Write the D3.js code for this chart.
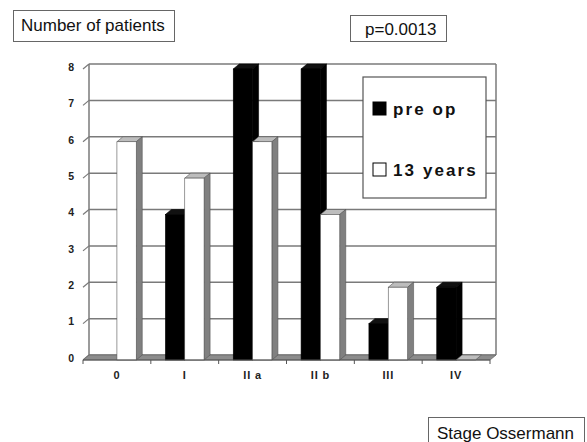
<!DOCTYPE html>
<html><head><meta charset="utf-8">
<script src="https://cdn.jsdelivr.net/npm/d3@7"></script>
<style>body{margin:0;background:#fff}svg{display:block}</style>
</head><body>
<script>
const categories = ["0", "I", "II a", "II b", "III", "IV"];
const preOp = [0, 4, 8, 8, 1, 2];
const years13 = [6, 5, 6, 4, 2, 0];
const seriesNames = ["pre op", "13 years"];
const yTicks = [0, 1, 2, 3, 4, 5, 6, 7, 8];

const W = 587, H = 442;
const svg = d3.select("body").append("svg").attr("width", W).attr("height", H);
const font = "'Liberation Sans', Arial, sans-serif";

const dx = 6, dy = 5;
const x0 = 83, x1 = 490, yFront0 = 360;
const x = d3.scaleBand().domain(categories).range([x0, x1]);
const yF = d3.scaleLinear().domain([0, 8]).range([yFront0, yFront0 - 291]);
const yB = v => yF(v) - dy;
const gridCol = "#7a7a7a";

svg.append("g").selectAll("line").data(yTicks).join("line")
  .attr("x1", x0 + dx).attr("x2", x1 + dx)
  .attr("y1", d => yB(d)).attr("y2", d => yB(d))
  .attr("stroke", gridCol).attr("stroke-width", 1.5);
svg.append("line").attr("x1", x0 + dx).attr("x2", x0 + dx).attr("y1", yB(8)).attr("y2", yB(0))
  .attr("stroke", gridCol).attr("stroke-width", 1.5);
svg.append("line").attr("x1", x1 + dx).attr("x2", x1 + dx).attr("y1", yB(8)).attr("y2", yB(0))
  .attr("stroke", gridCol).attr("stroke-width", 1.5);
svg.append("g").selectAll("line").data(yTicks).join("line")
  .attr("x1", x0).attr("y1", d => yF(d))
  .attr("x2", x0 + dx).attr("y2", d => yB(d))
  .attr("stroke", gridCol).attr("stroke-width", 1.2);
svg.append("path")
  .attr("d", `M${x0},${yF(0)}L${x1},${yF(0)}L${x1 + dx},${yB(0)}L${x0 + dx},${yB(0)}Z`)
  .attr("fill", "#8c8c8c").attr("stroke", "#6a6a6a").attr("stroke-width", 0.8);

svg.append("g").selectAll("text").data(yTicks).join("text")
  .attr("x", 74).attr("y", d => yF(d) - 1)
  .attr("text-anchor", "end").attr("dominant-baseline", "middle")
  .attr("font-family", font).attr("font-weight", "bold").attr("font-size", 10.5)
  .attr("fill", "#222").text(d => d);

const bw = x.bandwidth() * 0.285;
const series = [
  { values: preOp, front: "#000", side: "#000", top: "#111", offset: -1 },
  { values: years13, front: "#fff", side: "#808080", top: "#bdbdbd", offset: 0 }
];
const barG = svg.append("g");
categories.forEach((c, i) => {
  const cx = x(c) + x.bandwidth() / 2;
  series.forEach((s, si) => {
    const v = s.values[i];
    if (v === 0 && si === 0) return;
    const xl = cx + s.offset * bw, xr = xl + bw;
    const yt = yF(v), yb = yF(0);
    const g = barG.append("g");
    g.append("path")
      .attr("d", `M${xl},${yt}L${xr},${yt}L${xr + dx},${yt - dy}L${xl + dx},${yt - dy}Z`)
      .attr("fill", s.top).attr("stroke", si === 0 ? "#000" : "#555").attr("stroke-width", 0.6);
    if (v > 0) {
      g.append("path")
        .attr("d", `M${xr},${yt}L${xr + dx},${yt - dy}L${xr + dx},${yb - dy}L${xr},${yb}Z`)
        .attr("fill", s.side).attr("stroke", si === 0 ? "#000" : "#555").attr("stroke-width", 0.6);
      g.append("rect").attr("x", xl).attr("y", yt).attr("width", bw).attr("height", yb - yt)
        .attr("fill", s.front).attr("stroke", si === 0 ? "#000" : "#555").attr("stroke-width", 0.6);
    }
  });
});

const xAxisG = svg.append("g");
xAxisG.append("line").attr("x1", x0).attr("x2", x1).attr("y1", yF(0)).attr("y2", yF(0))
  .attr("stroke", "#555").attr("stroke-width", 1.2);
const bounds = categories.map(c => x(c)).concat([x1]);
xAxisG.selectAll("line.t").data(bounds).join("line").attr("class", "t")
  .attr("x1", d => d).attr("x2", d => d).attr("y1", yF(0)).attr("y2", yF(0) + 4)
  .attr("stroke", "#555").attr("stroke-width", 1);
xAxisG.selectAll("text").data(categories).join("text")
  .attr("x", d => x(d) + x.bandwidth() / 2).attr("y", 379)
  .attr("text-anchor", "middle")
  .attr("font-family", font).attr("font-weight", "bold").attr("font-size", 11)
  .attr("letter-spacing", 0.8)
  .attr("fill", "#222").text(d => d);

const leg = svg.append("g");
leg.append("rect").attr("x", 363).attr("y", 77).attr("width", 123).attr("height", 121)
  .attr("fill", "#fff").attr("stroke", "#555").attr("stroke-width", 1.2);
const legY = [102, 163];
seriesNames.forEach((n, i) => {
  leg.append("rect").attr("x", 373).attr("y", legY[i]).attr("width", 13).attr("height", 13)
    .attr("fill", series[i].front).attr("stroke", "#000").attr("stroke-width", 1);
  leg.append("text").attr("x", 393).attr("y", legY[i] + 13)
    .attr("font-family", font).attr("font-weight", "bold").attr("font-size", 17)
    .attr("letter-spacing", 2.1).attr("fill", "#111").text(n);
});

function box(xp, yp, w, h, tx, ty, t, fs) {
  svg.append("rect").attr("x", xp).attr("y", yp).attr("width", w).attr("height", h)
    .attr("fill", "#fff").attr("stroke", "#666").attr("stroke-width", 1);
  svg.append("text").attr("x", tx).attr("y", ty)
    .attr("font-family", font).attr("font-size", fs).attr("fill", "#111").text(t);
}
box(13.5, 10.5, 161, 31, 21, 31, "Number of patients", 17);
box(350.5, 15.5, 96, 26, 365, 35, "p=0.0013", 17);
box(428.5, 417.5, 156, 30, 437, 439, "Stage Ossermann", 17);
</script>
</body></html>
